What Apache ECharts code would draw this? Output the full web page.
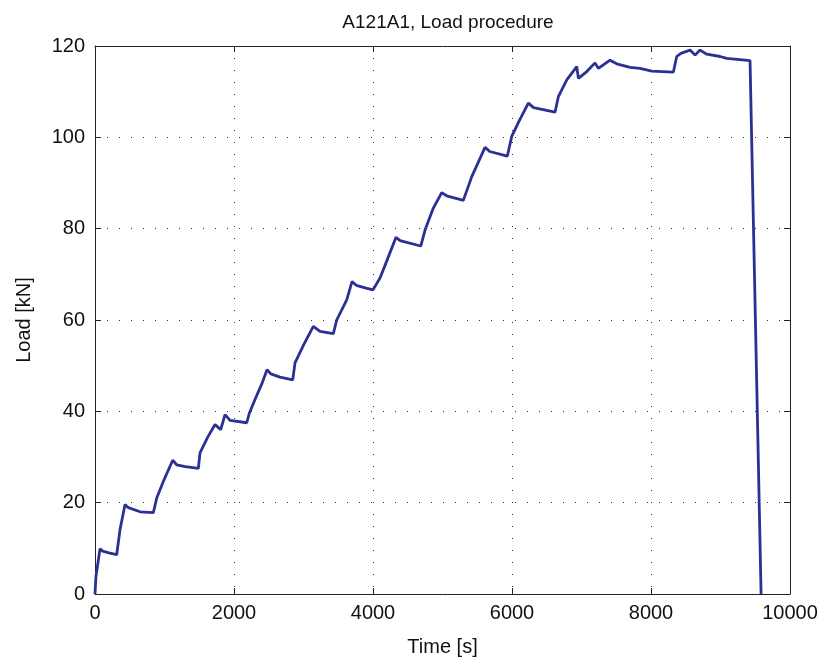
<!DOCTYPE html>
<html>
<head>
<meta charset="utf-8">
<script src="https://cdn.jsdelivr.net/npm/echarts@6/dist/echarts.min.js"></script>
<style>
html,body{margin:0;padding:0;background:#fff;}
#chart{width:828px;height:664px;}
</style>
</head>
<body>
<div id="chart"></div>
<script>
var titleText = 'A121A1, Load procedure';
var xName = 'Time [s]';
var yName = 'Load [kN]';

var timeS = [0, 14, 72, 110, 200, 312, 360, 432, 480, 648, 839, 888, 993, 1118, 1175, 1300, 1487, 1511, 1620, 1727, 1809, 1871, 1943, 2183, 2221, 2302, 2400, 2475, 2530, 2662, 2845, 2878, 3000, 3141, 3238, 3429, 3478, 3622, 3698, 3760, 3900, 4000, 4101, 4200, 4331, 4389, 4687, 4749, 4868, 4989, 5060, 5300, 5421, 5612, 5680, 5933, 5996, 6100, 6235, 6310, 6619, 6667, 6788, 6932, 6955, 7076, 7195, 7243, 7411, 7507, 7699, 7843, 8011, 8322, 8370, 8430, 8562, 8634, 8706, 8802, 8994, 9090, 9425, 9436, 9584];
var loadKN = [0, 3.9, 9.9, 9.4, 9.0, 8.6, 14.1, 19.6, 18.9, 18.0, 17.8, 21.0, 25.0, 29.3, 28.3, 27.9, 27.5, 30.9, 34.3, 37.1, 36.0, 39.3, 38.0, 37.5, 39.6, 42.6, 46.0, 49.1, 48.2, 47.5, 46.9, 50.6, 54.5, 58.6, 57.5, 57.0, 60.0, 64.4, 68.4, 67.6, 67.0, 66.6, 69.2, 73.0, 78.1, 77.4, 76.2, 79.7, 84.5, 87.9, 87.2, 86.2, 91.4, 97.8, 96.9, 95.9, 100.2, 103.5, 107.5, 106.5, 105.5, 108.9, 112.6, 115.5, 112.9, 114.4, 116.3, 115.1, 116.9, 116.1, 115.3, 115.1, 114.5, 114.3, 117.7, 118.4, 119.1, 118.0, 119.1, 118.2, 117.7, 117.3, 116.8, 116.5, 0];

var xTicks = [0, 2000, 4000, 6000, 8000, 10000];
var yTicks = [0, 20, 40, 60, 80, 100, 120];

var data = timeS.map(function (t, i) { return [t, loadKN[i]]; });

var font = 'Liberation Sans, Arial, Helvetica, sans-serif';
var txt = '#111';
var fs = 20;
var gridDots = {show: true, lineStyle: {color: '#333', width: 1, type: [1, 11]}};
var plain = function (v) { return String(v); };

var chart = echarts.init(document.getElementById('chart'), null, {renderer: 'canvas'});
chart.setOption({
  animation: false,
  backgroundColor: '#fff',
  title: {
    text: titleText,
    left: 443, top: 8, textAlign: 'center',
    textStyle: {fontFamily: font, fontSize: 19, fontWeight: 'normal', color: txt}
  },
  grid: {left: 95, right: 38, top: 46, bottom: 70, show: false},
  xAxis: [{
    type: 'value', min: xTicks[0], max: xTicks[xTicks.length - 1], interval: 2000,
    name: xName, nameLocation: 'middle', nameGap: 43,
    nameTextStyle: {fontFamily: font, fontSize: fs, color: txt},
    axisLine: {show: true, onZero: false, lineStyle: {color: '#222', width: 1}},
    axisTick: {show: true, inside: true, length: 6, lineStyle: {color: '#222'}},
    axisLabel: {fontFamily: font, fontSize: fs, color: txt, margin: 9, formatter: plain},
    splitLine: gridDots
  }, {
    type: 'value', position: 'top', min: xTicks[0], max: xTicks[xTicks.length - 1], interval: 2000,
    axisLine: {show: true, onZero: false, lineStyle: {color: '#222', width: 1}},
    axisTick: {show: true, inside: true, length: 6, lineStyle: {color: '#222'}},
    axisLabel: {show: false}, splitLine: {show: false}
  }],
  yAxis: [{
    type: 'value', min: yTicks[0], max: yTicks[yTicks.length - 1], interval: 20,
    name: yName, nameLocation: 'middle', nameGap: 61, nameRotate: 90,
    nameTextStyle: {fontFamily: font, fontSize: fs, color: txt},
    axisLine: {show: true, onZero: false, lineStyle: {color: '#222', width: 1}},
    axisTick: {show: true, inside: true, length: 6, lineStyle: {color: '#222'}},
    axisLabel: {fontFamily: font, fontSize: fs, color: txt, margin: 10, formatter: plain},
    splitLine: gridDots
  }, {
    type: 'value', position: 'right', min: yTicks[0], max: yTicks[yTicks.length - 1], interval: 20,
    axisLine: {show: true, onZero: false, lineStyle: {color: '#222', width: 1}},
    axisTick: {show: true, inside: true, length: 6, lineStyle: {color: '#222'}},
    axisLabel: {show: false}, splitLine: {show: false}
  }],
  series: [{
    type: 'line',
    data: data,
    xAxisIndex: 0, yAxisIndex: 0,
    showSymbol: false,
    lineStyle: {color: '#2B3192', width: 2.8},
    clip: true
  }]
});
</script>
</body>
</html>
